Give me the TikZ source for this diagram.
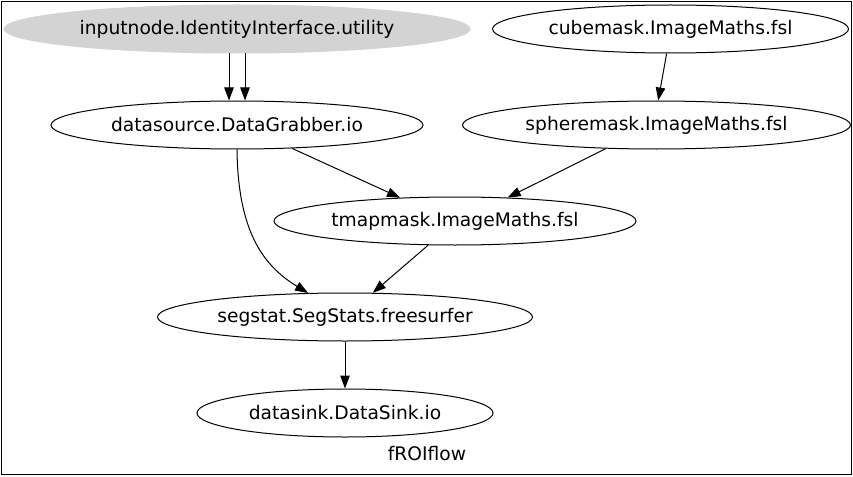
\documentclass[tikz,border=0pt]{standalone}
\usepackage{fontspec}
\setmainfont{DejaVu Sans}
\usetikzlibrary{shapes.geometric,arrows.meta}
\begin{document}
\begin{tikzpicture}[x=1pt,y=-1pt,
  gnode/.style={ellipse,draw=black,line width=1pt,inner sep=0pt,minimum height=48pt,font=\fontsize{18.67}{21}\selectfont},
  gedge/.style={draw=black,line width=1pt,-{Triangle[length=13pt,width=9.5pt]}}]
\useasboundingbox (0,0) rectangle (853,476);
\draw[line width=1pt] (1.5,1.5) rectangle (851.5,474.5);
\node[gnode,fill={rgb,255:red,211;green,211;blue,211},draw={rgb,255:red,211;green,211;blue,211},minimum width=466pt] (inputnode) at (237,29) {inputnode.IdentityInterface.utility};
\node[gnode,minimum width=356pt] (cubemask) at (670.5,29) {cubemask.ImageMaths.fsl};
\node[gnode,minimum width=372pt] (datasource) at (237,125) {datasource.DataGrabber.io};
\node[gnode,minimum width=388pt] (spheremask) at (656.5,125) {spheremask.ImageMaths.fsl};
\node[gnode,minimum width=362pt] (tmapmask) at (455,221) {tmapmask.ImageMaths.fsl};
\node[gnode,minimum width=375pt] (segstat) at (345,317) {segstat.SegStats.freesurfer};
\node[gnode,minimum width=296pt] (datasink) at (345,413) {datasink.DataSink.io};
\node[font=\fontsize{18.67}{21}\selectfont] (label) at (427,454) {fROIflow};
\draw[gedge] ([xshift=-8pt]inputnode.south) -- ([xshift=-8pt]datasource.north);
\draw[gedge] ([xshift=8pt]inputnode.south) -- ([xshift=8pt]datasource.north);
\draw[gedge] (cubemask.-99) -- (spheremask.86);
\draw[gedge] (datasource.-23.5) -- (tmapmask.157.2);
\draw[gedge] (spheremask.-155) -- (tmapmask.24.9);
\draw[gedge] (datasource.south) .. controls (238,230) and (262,265) .. (segstat.147);
\draw[gedge] (tmapmask.-138.7) -- (segstat.41.6);
\draw[gedge] (segstat.south) -- (datasink.north);
\end{tikzpicture}
\end{document}
